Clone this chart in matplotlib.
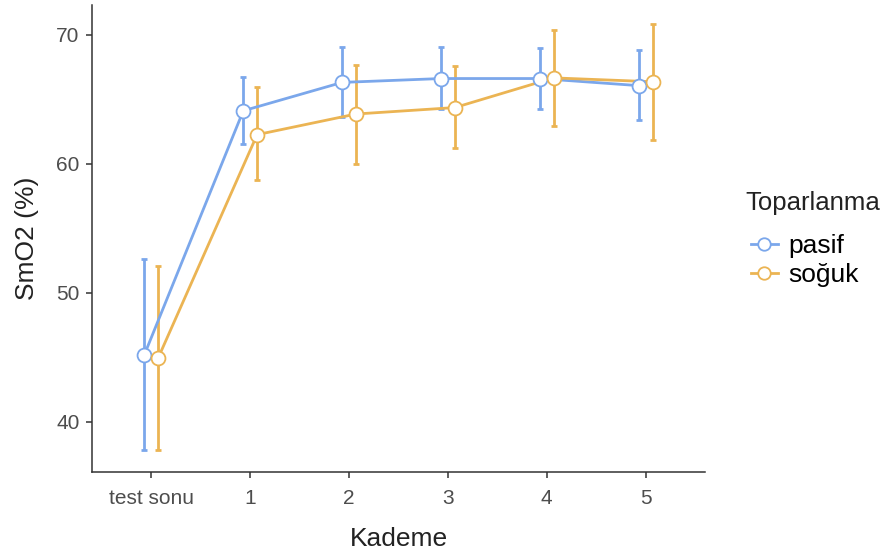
import matplotlib
matplotlib.use("Agg")
import matplotlib.pyplot as plt
from matplotlib.lines import Line2D
import numpy as np

plt.rcParams['font.family'] = ['Liberation Sans', 'DejaVu Sans']

categories = ["test sonu", "1", "2", "3", "4", "5"]
pasif_mean = [45.2, 64.1, 66.3, 66.6, 66.6, 66.05]
pasif_low = [37.8, 61.55, 63.6, 64.2, 64.25, 63.35]
pasif_high = [52.6, 66.75, 69.05, 69.05, 68.95, 68.8]
soguk_mean = [44.95, 62.25, 63.85, 64.35, 66.65, 66.35]
soguk_low = [37.8, 58.7, 60.0, 61.2, 62.9, 61.85]
soguk_high = [52.1, 65.95, 67.65, 67.55, 70.4, 70.8]

c_pasif = "#7BA7EB"
c_soguk = "#EBB453"

fig = plt.figure(figsize=(8.91, 5.59), dpi=100)
ax = fig.add_axes([92/891, 1-472/559, (705-92)/891, (472-5)/559])

x = np.arange(len(categories))
dodge = 0.07
for mean, lo, hi, col, off in [(pasif_mean, pasif_low, pasif_high, c_pasif, -dodge),
                                (soguk_mean, soguk_low, soguk_high, c_soguk, dodge)]:
    xs = x + off
    m = np.array(mean)
    yerr = np.vstack([m - np.array(lo), np.array(hi) - m])
    ax.errorbar(xs, m, yerr=yerr, fmt='none', ecolor=col, elinewidth=2, capsize=2, capthick=2, zorder=2)
    ax.plot(xs, m, color=col, lw=2, zorder=3)
    ax.plot(xs, m, 'o', ms=10, mfc='white', mec=col, mew=1.3, zorder=4)

ax.set_xlim(-0.6, 5.6)
ax.set_ylim(36.1, 72.3)
ax.set_xticks(x)
ax.set_xticklabels(categories)
ax.set_yticks([40, 50, 60, 70])
for s in ['top', 'right']:
    ax.spines[s].set_visible(False)
for s in ['left', 'bottom']:
    ax.spines[s].set_color('#333333')
    ax.spines[s].set_linewidth(1.1)
ax.tick_params(axis='both', colors='#333333', length=4, width=1.1, labelsize=15, labelcolor='#4D4D4D')
ax.tick_params(axis='x', pad=8)
ax.tick_params(axis='y', pad=5)
ax.set_xlabel("Kademe", fontsize=19, color='#222222', labelpad=14)
ax.set_ylabel("SmO2 (%)", fontsize=19, color='#222222', labelpad=12)

fig.text(745/891, 1-203/559, "Toparlanma", fontsize=18.5, color='#222222', ha='left', va='center')

handles = [Line2D([0], [0], color=c_pasif, lw=2, marker='o', ms=9, mfc='white', mec=c_pasif, mew=1.3),
           Line2D([0], [0], color=c_soguk, lw=2, marker='o', ms=9, mfc='white', mec=c_soguk, mew=1.3)]
leg = fig.legend(handles, ["pasif", "soğuk"], loc='upper left',
                 bbox_to_anchor=(730/891, 1-213/559), frameon=False, fontsize=19,
                 handlelength=1.0, handletextpad=0.4, labelspacing=0.2,
                 borderpad=0.3)

fig.savefig("out.png", dpi=100)
